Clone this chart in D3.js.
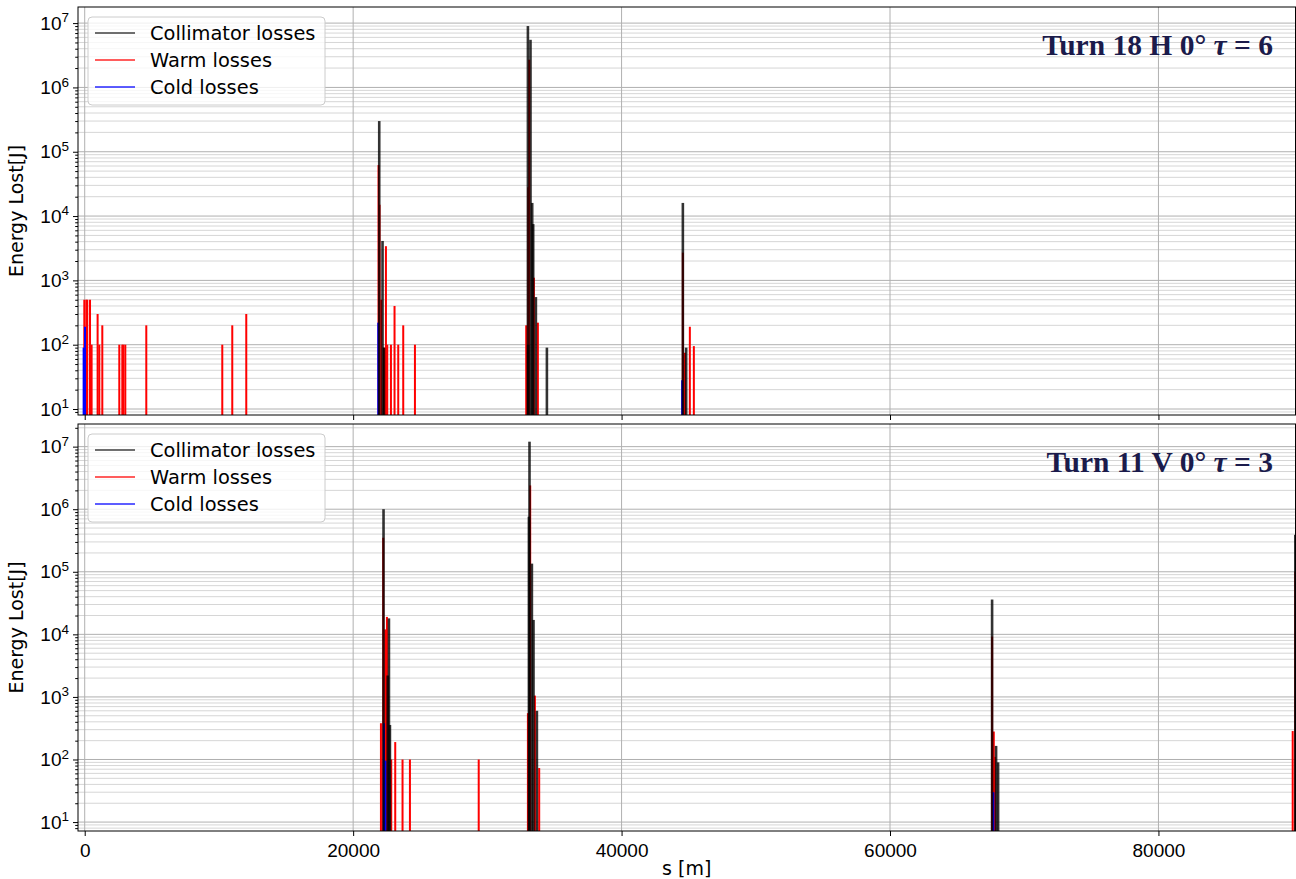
<!DOCTYPE html>
<html lang="en">
<head>
<meta charset="UTF-8">
<title>Energy lost along the ring</title>
<script src="https://d3js.org/d3.v7.min.js"></script>
<style>
  body { margin: 0; background: #fff; }
  svg { display: block; font-family: "DejaVu Sans", sans-serif; }
</style>
</head>
<body>
<svg width="1296" height="879"></svg>
<script>
// [s (m), energy lost (J)]
const topCollimator = [[21944,3.0e5],[22190,4.1e3],[22294,90],[33021,9.0e6],[33214,5.5e6],[33043,100],[33341,1.6e4],[33415,7.5e3],[33616,550],[34436,90],[44566,1.6e4],[44812,90]];
const topWarm = [[-30,500],[120,500],[190,500],[395,500],[514,100],[961,300],[1088,100],[1311,200],[2577,100],[2801,100],[2875,100],[3024,100],[4588,200],[10250,100],[10994,200],[12037,300],[21892,6.2e4],[21967,1.5e4],[22093,500],[22294,90],[22443,3.4e3],[22540,100],[22816,100],[23084,400],[23360,100],[23732,200],[24604,100],[32894,200],[33043,2.8e4],[33117,2.7e6],[33467,1.1e3],[33765,220],[44566,2.7e3],[44715,75],[45087,190],[45385,95]];
const topCold = [[-80,90],[20,190],[21870,220],[44514,28]];

const botCollimator = [[22264,1.0e6],[22577,2.2e3],[22667,1.8e4],[22741,356],[33095,7.6e5],[33140,1.2e7],[33318,1.35e5],[33438,1.7e4],[33691,600],[67606,3.6e4],[67904,165],[68053,90],[90197,3.9e5]];
const botWarm = [[22071,380],[22242,3.5e5],[22391,1.2e4],[22518,1.9e4],[22838,100],[23136,190],[23680,100],[24231,100],[29356,100],[33021,550],[33192,2.4e6],[33542,1.05e3],[33862,73],[67606,9.2e3],[67732,280],[67807,110],[90003,285],[90197,1.0e5]];
const botCold = [[22294,380],[22413,96],[67702,30]];

const xTicks = [0, 20000, 40000, 60000, 80000];
const yExponents = [1, 2, 3, 4, 5, 6, 7];
const legendLabels = ["Collimator losses", "Warm losses", "Cold losses"];
const seriesColors = ["#000000", "#ff0000", "#0000ff"];

const panels = [
  { top: 7, bottom: 415, yDomain: [8.07, 1.78e7], title: ["Turn 18 H 0° ", "τ", " = 6"],
    series: [topWarm, topCold, topCollimator], showX: false },
  { top: 424, bottom: 831, yDomain: [7.2, 2.3e7], title: ["Turn 11 V 0° ", "τ", " = 3"],
    series: [botWarm, botCold, botCollimator], showX: true }
];

const left = 78, right = 1295.5;
const x = d3.scaleLinear().domain([-500, 90212]).range([left, right]);
const svg = d3.select("svg");

panels.forEach((p, pi) => {
  const y = d3.scaleLog().domain(p.yDomain).range([p.bottom, p.top]);
  const g = svg.append("g");

  const clipId = "clip" + pi;
  svg.append("clipPath").attr("id", clipId).append("rect")
    .attr("x", left).attr("y", p.top).attr("width", right - left).attr("height", p.bottom - p.top);

  // minor and major y values inside the domain
  const minors = [];
  for (let e = 0; e <= 7; e++) {
    for (let m = 2; m <= 9; m++) {
      const v = m * Math.pow(10, e);
      if (v >= p.yDomain[0] && v <= p.yDomain[1]) minors.push(v);
    }
  }
  const majors = yExponents.map(e => Math.pow(10, e));

  // grid
  const grid = g.append("g").attr("clip-path", `url(#${clipId})`);
  grid.selectAll(".minor").data(minors).enter().append("line")
    .attr("x1", left).attr("x2", right)
    .attr("y1", d => y(d)).attr("y2", d => y(d))
    .attr("stroke", "#d6d6d6").attr("stroke-width", 1);
  grid.selectAll(".major").data(majors).enter().append("line")
    .attr("x1", left).attr("x2", right)
    .attr("y1", d => y(d)).attr("y2", d => y(d))
    .attr("stroke", "#b0b0b0").attr("stroke-width", 1);
  grid.selectAll(".vmajor").data(xTicks).enter().append("line")
    .attr("x1", d => x(d)).attr("x2", d => x(d))
    .attr("y1", p.top).attr("y2", p.bottom)
    .attr("stroke", "#b0b0b0").attr("stroke-width", 1);

  // bars
  const bars = g.append("g").attr("clip-path", `url(#${clipId})`);
  const styles = [
    { color: "#ff0000", opacity: 1, w: 2 },
    { color: "#0000ff", opacity: 1, w: 2 },
    { color: "#000000", opacity: 0.8, w: 2.6 }
  ];
  p.series.forEach((data, si) => {
    const st = styles[si];
    bars.append("g").selectAll("rect").data(data).enter().append("rect")
      .attr("x", d => x(d[0]) - st.w / 2)
      .attr("width", st.w)
      .attr("y", d => y(d[1]))
      .attr("height", d => p.bottom - y(d[1]))
      .attr("fill", st.color)
      .attr("fill-opacity", st.opacity);
  });

  // y axis
  const yAxis = g.append("g").attr("transform", `translate(${left},0)`);
  yAxis.call(d3.axisLeft(y).tickValues(minors).tickSize(2.8).tickFormat(""));
  const yMaj = g.append("g").attr("transform", `translate(${left},0)`);
  yMaj.call(d3.axisLeft(y).tickValues(majors).tickSize(5).tickFormat(""));
  yMaj.selectAll(".tick").append("text")
    .attr("x", -9).attr("dy", "0.32em")
    .attr("text-anchor", "end")
    .attr("fill", "#000")
    .attr("font-size", 19)
    .each(function(d) {
      const t = d3.select(this);
      t.append("tspan").text("10");
      t.append("tspan").attr("dy", "-0.55em").attr("font-size", 13.5).text(Math.round(Math.log10(d)));
    });

  // x axis
  const xAxis = g.append("g").attr("transform", `translate(0,${p.bottom})`);
  xAxis.call(d3.axisBottom(x).tickValues(xTicks).tickSize(5)
    .tickFormat(p.showX ? d3.format("d") : ""));
  xAxis.selectAll("text").attr("font-size", 19).attr("dy", "0.95em").attr("fill", "#000");

  [yAxis, yMaj, xAxis].forEach(a => {
    a.select(".domain").remove();
    a.selectAll(".tick line").attr("stroke", "#000").attr("stroke-width", 1);
  });

  // frame
  g.append("rect")
    .attr("x", left).attr("y", p.top)
    .attr("width", right - left).attr("height", p.bottom - p.top)
    .attr("fill", "none").attr("stroke", "#000").attr("stroke-width", 1);

  // y label
  g.append("text")
    .attr("transform", `translate(23,${(p.top + p.bottom) / 2}) rotate(-90)`)
    .attr("text-anchor", "middle")
    .attr("font-size", 19)
    .text("Energy Lost[J]");

  // legend
  const lg = g.append("g").attr("transform", `translate(88,${p.top + 10})`);
  lg.append("rect")
    .attr("width", 237).attr("height", 88).attr("rx", 4)
    .attr("fill", "#fff").attr("fill-opacity", 0.8)
    .attr("stroke", "#cccccc").attr("stroke-width", 1);
  legendLabels.forEach((lab, i) => {
    const row = lg.append("g").attr("transform", `translate(0,${16 + i * 27})`);
    row.append("line").attr("x1", 7).attr("x2", 47)
      .attr("stroke", seriesColors[i]).attr("stroke-width", 1.5)
      .attr("stroke-opacity", i === 0 ? 0.75 : 0.85);
    row.append("text").attr("x", 62).attr("dy", "0.35em")
      .attr("font-size", 19.4).text(lab);
  });

  // panel title
  const tt = g.append("text")
    .attr("x", 1273).attr("y", p.top + 48)
    .attr("text-anchor", "end")
    .attr("font-family", "'Liberation Serif', serif")
    .attr("font-weight", "bold")
    .attr("font-size", 29.5)
    .attr("fill", "#1b1b4b");
  tt.append("tspan").text(p.title[0]);
  tt.append("tspan").attr("font-style", "italic").text(p.title[1]);
  tt.append("tspan").text(p.title[2].replace(/ /g, "\u2005"));
});

svg.append("text")
  .attr("x", (left + right) / 2).attr("y", 875)
  .attr("text-anchor", "middle")
  .attr("font-size", 19)
  .text("s [m]");
</script>
</body>
</html>
